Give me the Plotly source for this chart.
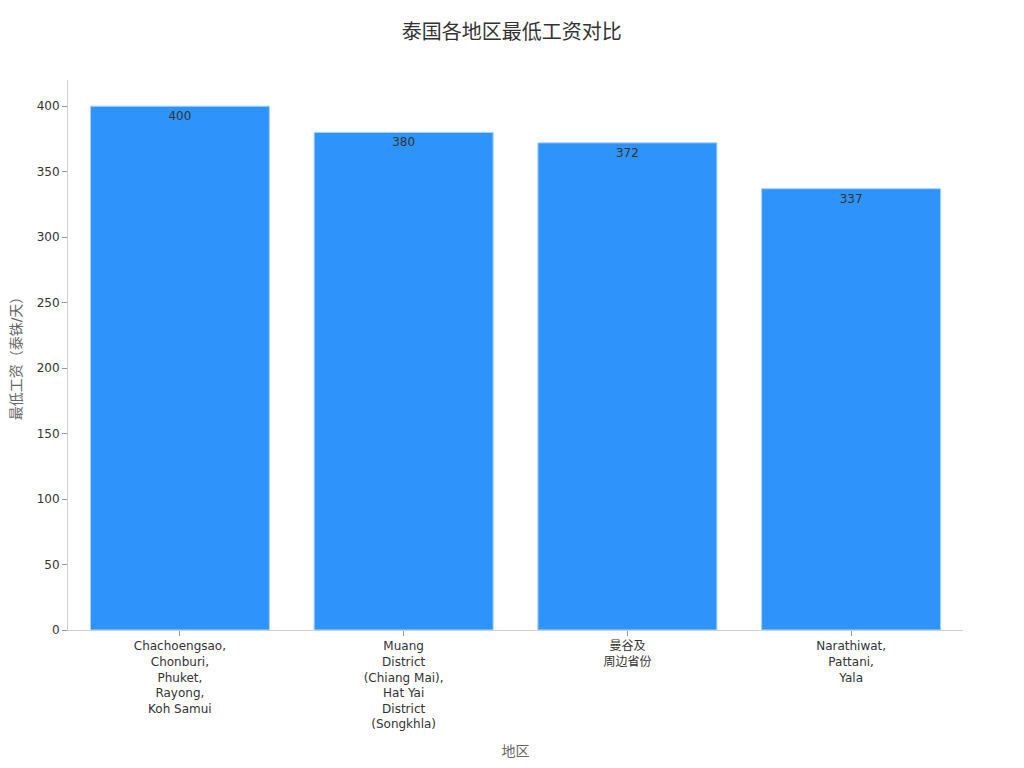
import plotly.graph_objects as go

regions = [
    "Chachoengsao,<br>Chonburi,<br>Phuket,<br>Rayong,<br>Koh Samui",
    "Muang<br>District<br>(Chiang Mai),<br>Hat Yai<br>District<br>(Songkhla)",
    "曼谷及<br>周边省份",
    "Narathiwat,<br>Pattani,<br>Yala",
]
wages = [400, 380, 372, 337]

font = "DejaVu Sans, Noto Sans CJK SC, sans-serif"

fig = go.Figure()
fig.add_trace(go.Bar(
    x=regions,
    y=wages,
    text=wages,
    textposition="inside",
    insidetextanchor="end",
    textfont=dict(color="#333333", size=12),
    marker=dict(color="#2e93fa", line=dict(color="#a9d2fb", width=1)),
))

fig.update_layout(
    title=dict(text="泰国各地区最低工资对比", x=0.492, y=0.969, xanchor="center",
               yanchor="middle", font=dict(size=20, color="#333333")),
    font=dict(family=font, size=12, color="#333333"),
    plot_bgcolor="white",
    paper_bgcolor="white",
    width=1024, height=768,
    margin=dict(l=60, r=69, t=72, b=146),
    bargap=0.2,
    showlegend=False,
)
fig.update_xaxes(
    title=dict(text="地区", font=dict(size=14, color="#666666")),
    showline=True, linecolor="#d0d0d0", ticks="outside", tickcolor="#999999",
    ticklen=5, tickfont=dict(size=12), automargin=False,
)
fig.update_yaxes(
    title=dict(text="最低工资（泰铢/天）", font=dict(size=14, color="#666666")),
    range=[0, 420], dtick=50, showgrid=False, zeroline=False,
    showline=True, linecolor="#d0d0d0", ticks="outside", tickcolor="#999999",
    ticklen=5, tickfont=dict(size=12), automargin=False,
)

fig.write_html("out.html")
